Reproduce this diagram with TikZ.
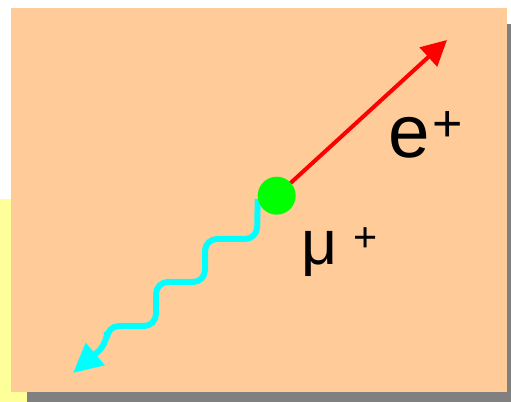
\documentclass[tikz,border=0pt]{standalone}
\usepackage{fontspec}
\setmainfont{Liberation Sans}
\usetikzlibrary{arrows.meta}
\definecolor{bgpeach}{RGB}{255,204,153}
\definecolor{bgyellow}{RGB}{255,255,153}
\definecolor{bgshadow}{RGB}{128,128,128}
\definecolor{posred}{RGB}{255,0,0}
\definecolor{gamcyan}{RGB}{0,255,255}
\definecolor{dotgreen}{RGB}{0,255,0}
\pgfdeclarelayer{back}
\pgfdeclarelayer{tracks}
\pgfsetlayers{back,tracks,main}

\begin{document}
\begin{tikzpicture}[x=0.75pt, y=-0.75pt,
  lbl/.style={inner sep=0pt, anchor=base west, text=black},
  positron/.style={posred, line width=3pt, -{Triangle[length=19pt, width=19pt]}},
  photon/.style={gamcyan, line width=4.5pt, rounded corners=9pt,
                 -{Triangle[length=22pt, width=21pt]}},
  muondot/.style={circle, fill=dotgreen, inner sep=0pt, minimum size=28.5pt}]

\useasboundingbox (0,0) rectangle (511,402);
\begin{pgfonlayer}{back}
\fill[bgyellow] (0,199) rectangle (30,402);
\fill[bgshadow] (27,24) rectangle (511,402);
\fill[bgpeach] (11,8) rectangle (507,392);
\end{pgfonlayer}

\coordinate (eEnd) at (447,40);
\coordinate (gEnd) at (73,373);

\node[muondot] (muon) at (276.7,195.7) {};
\begin{pgfonlayer}{tracks}
\draw[positron] (muon.center) -- (eEnd);
\draw[photon] (muon.190) -- (257,239) -- (205,239) -- (205,282) -- (156,282)
  -- (156,326) -- (107,326) -- (107,344) -- (gEnd);
\end{pgfonlayer}

\node[lbl, font=\fontsize{56}{60}\selectfont] (eLabel) at (388,158)
  {e\kern2pt\raisebox{12pt}{\fontsize{39}{40}\selectfont +}};
\node[lbl, font=\fontsize{47}{50}\selectfont] (muLabel) at (301,265)
  {μ\kern12pt\raisebox{10pt}{\fontsize{31}{32}\selectfont +}};
\end{tikzpicture}
\end{document}
